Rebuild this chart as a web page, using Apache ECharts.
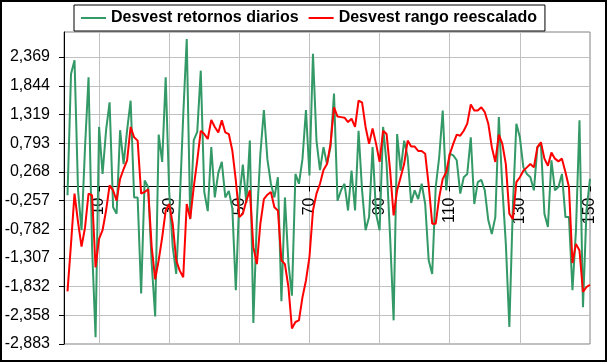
<!DOCTYPE html>
<html>
<head>
<meta charset="utf-8">
<script src="https://cdn.jsdelivr.net/npm/echarts@6/dist/echarts.min.js"></script>
<style>
html,body{margin:0;padding:0;background:#fff;}
#chart{width:607px;height:362px;}
</style>
</head>
<body>
<div id="chart"></div>
<script>
// ---- Data ----
const seriesNames = ['Desvest retornos diarios', 'Desvest rango reescalado'];

// values for categories 1..150 (category 0 is empty)
const retornosDiarios = [
  -0.16, 2.06, 2.31, -0.07, -0.8, 0.72, 2.0, -1.1, -2.76, 1.09,
  0.23, 1.03, 1.54, -0.38, -0.5, 1.03, 0.41, 1.03, 1.57, -0.2,
  -0.2, -1.96, 0.11, -0.01, -1.4, -2.38, 0.95, 0.45, 2.0, -0.1,
  -1.1, -1.6, -0.3, 1.3, 2.7, -0.6, 0.85, 1.0, 2.12, -0.1,
  -0.45, 0.72, -0.2, 0.25, 0.45, -0.2, -0.08, -0.4, -1.9, -0.2,
  0.4, -0.3, 0.84, -2.5, -0.6, 0.6, 1.4, 0.5, 0.05, -0.2,
  0.17, -2.1, -0.2, -1.4, -2.0, 0.23, 0.05, 0.5, 1.4, 0.2,
  2.43, 0.84, 0.3, 0.72, 0.41, 0.72, 1.7, -0.26, -0.07, 0.05,
  -0.44, 0.29, -0.44, 1.02, -0.07, -0.8, -0.56, 0.72, -0.5, -0.8,
  1.09, 0.41, -0.93, -2.45, 0.96, 0.29, 0.84, 0.54, -0.3, -0.07,
  -0.23, 0.05, -0.32, -1.35, -1.6, -0.01, 0.54, 1.39, -0.07, 0.6,
  0.57, 0.48, -0.13, 0.17, 0.23, 0.9, -0.32, 0.08, 0.12, -0.07,
  -0.62, -0.87, -0.56, 1.27, -0.01, -1.05, -2.57, -0.38, 1.15, 0.9,
  0.35, 0.23, 0.17, -0.07, 0.72, 0.78, -0.5, -0.74, 0.48, -0.07,
  -0.01, 0.23, -0.56, -0.56, -1.9, -0.8, 1.21, -2.21, -0.44, 0.14
];

const rangoReescalado = [
  -1.92, -1.05, -0.13, -0.65, -1.1, -0.75, -0.13, -0.16, -1.48, -0.96,
  -0.8, -0.44, 0.02, -0.07, -0.26, 0.14, 0.32, 0.48, 1.09, 0.9,
  0.84, -0.13, -0.1, -0.05, -1.1, -1.7, -1.35, -0.93, -0.44, -0.32,
  -0.68, -1.35, -1.54, -1.66, -0.32, -0.59, -0.01, 0.48, 1.02, 0.96,
  0.87, 1.22, 1.09, 0.99, 1.21, 0.99, 0.96, 0.66, 0.11, -0.56,
  -0.5, -0.26, -0.07, -1.11, -1.42, -0.68, -0.23, -0.15, -0.1, -0.38,
  -0.44, -1.35, -1.42, -1.84, -2.6, -2.48, -2.45, -2.03, -1.72, -1.29,
  -0.44, -0.13, 0.05, 0.3, 0.41, 0.78, 1.45, 1.28, 1.27, 1.26,
  1.18, 1.24, 1.09, 1.57, 1.54, 1.09, 0.78, 1.06, 0.78, 0.45,
  1.02, 0.96, 0.29, -0.53, -0.07, 0.17, 0.41, 0.84, 0.73, 0.73,
  0.65, 0.65, 0.6, 0.02, -0.68, -0.68, -0.2, 0.14, 0.26, 0.59,
  0.78, 0.95, 0.93, 1.02, 1.15, 1.5, 1.39, 1.39, 1.45, 1.36,
  1.15, 0.72, 0.45, 0.95, 0.78, 0.41, -0.5, -0.6, 0.08, 0.17,
  0.29, 0.35, 0.41, 0.35, 0.72, 0.81, 0.51, 0.38, 0.62, 0.51,
  0.46, 0.51, 0.26, -0.01, -1.4, -1.05, -1.17, -1.93, -1.84, -1.8
];

const yTicks = [-2.883, -2.358, -1.832, -1.307, -0.782, -0.257, 0.268, 0.793, 1.319, 1.844, 2.369];
const yTickLabels = ['-2,883', '-2,358', '-1,832', '-1,307', '-0,782', '-0,257', '0,268', '0,793', '1,319', '1,844', '2,369'];
const xTickLabels = ['10', '30', '50', '70', '90', '110', '130', '150'];
const yMin = -2.883, yMax = 2.828;

// ---- Build categories 0..150 ----
const categories = [];
for (let i = 0; i <= 150; i++) categories.push(String(i));
const showIdx = (idx) => xTickLabels.indexOf(categories[idx]) >= 0;

// layout
const GRID = {left: 64, right: 17, top: 32, bottom: 18};
const plotH = 362 - GRID.top - GRID.bottom;
const zeroOffset = -plotH * (0 - yMin) / (yMax - yMin); // move category axis up to y = 0

const chart = echarts.init(document.getElementById('chart'), null, {renderer: 'canvas'});
const FONT = "'Liberation Sans', Arial, sans-serif";

chart.setOption({
  animation: false,
  backgroundColor: '#ffffff',
  textStyle: {fontFamily: FONT},
  graphic: [{
    type: 'rect', silent: true, z: 100,
    shape: {x: 1, y: 1, width: 605, height: 360},
    style: {fill: 'none', stroke: '#000000', lineWidth: 2}
  }],
  legend: {
    left: 74, top: 5,
    padding: [5, 8, 5, 7],
    itemGap: 10, itemWidth: 25, itemHeight: 2,
    icon: 'rect',
    backgroundColor: '#ffffff', borderColor: '#000000', borderWidth: 1, borderRadius: 0,
    textStyle: {fontFamily: FONT, fontSize: 16, fontWeight: 'bold', color: '#000000', lineHeight: 16},
    data: seriesNames
  },
  grid: {
    left: GRID.left, right: GRID.right, top: GRID.top, bottom: GRID.bottom,
    outerBoundsMode: 'none', containLabel: false,
    show: true, borderColor: '#808080', borderWidth: 1, backgroundColor: 'transparent'
  },
  xAxis: [{
    type: 'category',
    data: categories,
    boundaryGap: false,
    position: 'bottom',
    offset: zeroOffset,
    axisLine: {onZero: false, lineStyle: {color: '#000000', width: 1}},
    axisTick: {show: true, interval: (idx) => showIdx(idx), length: 5, lineStyle: {color: '#000000'}},
    axisLabel: {
      interval: (idx) => showIdx(idx),
      rotate: 90, margin: 11,
      color: '#000000', fontFamily: FONT, fontSize: 16,
      padding: [0, 0, 4, 0]
    },
    splitLine: {show: true, interval: (idx) => showIdx(idx), lineStyle: {color: '#C0C0C0', width: 1}}
  }],
  yAxis: {
    type: 'value',
    min: yMin,
    max: yMax,
    axisLine: {show: true, onZero: false, lineStyle: {color: '#000000', width: 1}},
    axisTick: {show: true, length: 5, customValues: yTicks, lineStyle: {color: '#000000'}},
    axisLabel: {
      customValues: yTicks,
      margin: 14,
      color: '#000000', fontFamily: FONT, fontSize: 16,
      formatter: (v) => {
        let best = 0;
        for (let k = 1; k < yTicks.length; k++) {
          if (Math.abs(yTicks[k] - v) < Math.abs(yTicks[best] - v)) best = k;
        }
        return yTickLabels[best];
      }
    },
    splitLine: {show: true, lineStyle: {color: '#C0C0C0', width: 1}}
  },
  series: [
    {
      name: seriesNames[0], type: 'line',
      data: [null].concat(retornosDiarios),
      showSymbol: false, symbol: 'none',
      lineStyle: {color: '#339966', width: 2},
      itemStyle: {color: '#339966'},
      z: 2
    },
    {
      name: seriesNames[1], type: 'line',
      data: [null].concat(rangoReescalado),
      showSymbol: false, symbol: 'none',
      lineStyle: {color: '#FF0000', width: 2},
      itemStyle: {color: '#FF0000'},
      z: 3
    }
  ]
});
</script>
</body>
</html>
